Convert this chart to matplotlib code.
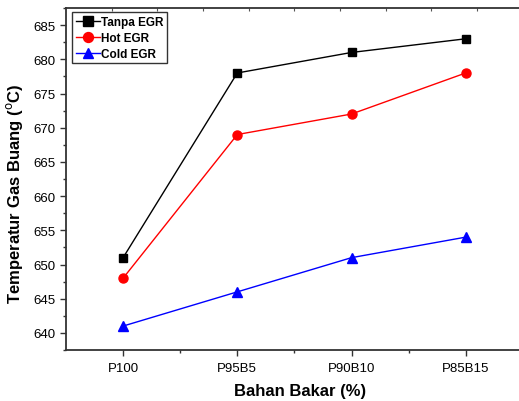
import matplotlib
matplotlib.use("Agg")
import matplotlib.pyplot as plt
import numpy as np

categories = ["P100", "P95B5", "P90B10", "P85B15"]
tanpa_egr = [651, 678, 681, 683]
hot_egr = [648, 669, 672, 678]
cold_egr = [641, 646, 651, 654]

plt.rcParams['font.family'] = ['Liberation Sans', 'DejaVu Sans']

fig = plt.figure(figsize=(5.19, 4.02), dpi=100)
ax = fig.add_axes([66/519, 1-351/402, (522.8-66)/519, (351-9)/402])

x = np.arange(len(categories))
ax.plot(x, tanpa_egr, color='black', marker='s', markersize=6, lw=1, label='Tanpa EGR')
ax.plot(x, hot_egr, color='red', marker='o', markersize=6.5, lw=1, label='Hot EGR')
ax.plot(x, cold_egr, color='blue', marker='^', markersize=7, lw=1, label='Cold EGR')

ax.set_xlim(-0.5, 3.5)
ax.set_ylim(637.5, 687.5)
ax.set_xticks(x)
ax.set_xticklabels(categories)
ax.set_xticks(x[:-1] + 0.5, minor=True)
ax.set_yticks(np.arange(640, 686, 5))
ax.set_yticks(np.arange(637.5, 687.6, 2.5), minor=True)
ax.tick_params(axis='both', which='major', direction='out', length=4, width=1, labelsize=9.5, colors='#333333', labelcolor='black')
ax.tick_params(axis='both', which='minor', direction='out', length=2.5, width=1, colors='#333333')
ax.tick_params(axis='x', pad=5)

for s in ax.spines.values():
    s.set_linewidth(1.3)
    s.set_color('#333333')
ax.spines['right'].set_visible(False)

top = ax.secondary_xaxis('top')
top.set_xticks(np.arange(-0.1, 3.5, 0.4))
top.set_xticklabels([])
top.tick_params(direction='in', length=2.5, width=0.8, colors='#555555')
top.spines['top'].set_visible(False)

ax.set_xlabel('Bahan Bakar (%)', fontsize=12, fontweight='bold')
ax.set_ylabel('Temperatur Gas Buang ($^{\\mathrm{o}}$C)', fontsize=12, fontweight='bold')
ax.xaxis.set_label_coords((300-66)/456.8, (351-384)/342)
ax.yaxis.set_label_coords((25-66)/456.8, (351-194)/342)

leg = ax.legend(loc='upper left', bbox_to_anchor=(0.014, 0.988), prop={'weight': 'bold', 'size': 8.5},
                frameon=True, fancybox=False, edgecolor='black', handlelength=2.0, handletextpad=0.1,
                borderpad=0.3, labelspacing=0.35, borderaxespad=0.0, markerscale=1.1)
leg.get_frame().set_linewidth(1.0)

fig.savefig('out.png', dpi=100)
